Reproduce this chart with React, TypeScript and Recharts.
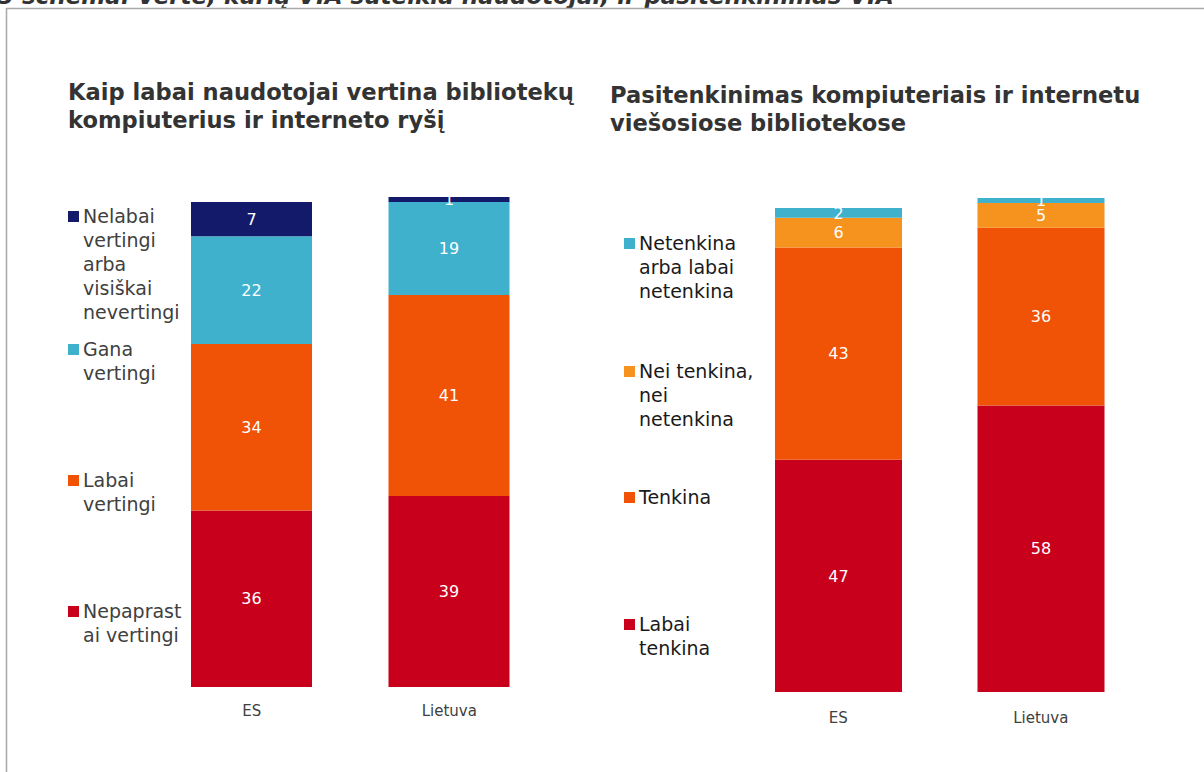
import { BarChart, Bar, XAxis, YAxis, LabelList } from "recharts"

// categories on both charts
const categories = ["ES", "Lietuva"]

// left chart: how users value library computers and internet (%)
const extremelyValuable = [36, 39]
const veryValuable = [34, 41]
const fairlyValuable = [22, 19]
const notValuable = [7, 1]

// right chart: satisfaction with computers and internet (%)
const verySatisfied = [47, 58]
const satisfied = [43, 36]
const neutral = [6, 5]
const dissatisfied = [2, 1]

const leftTitle = ["Kaip labai naudotojai vertina bibliotekų", "kompiuterius ir interneto ryšį"]
const rightTitle = ["Pasitenkinimas kompiuteriais ir internetu", "viešosiose bibliotekose"]
const topCaption = "5 schema. Vertė, kurią VIA suteikia naudotojai, ir pasitenkinimas VIA"

const leftLegend = [
    { lines: ["Nelabai", "vertingi", "arba", "visiškai", "nevertingi"], color: "#141a6a" },
    { lines: ["Gana", "vertingi"], color: "#40b1cd" },
    { lines: ["Labai", "vertingi"], color: "#f05206" },
    { lines: ["Nepaprast", "ai vertingi"], color: "#c8001c" },
]
const rightLegend = [
    { lines: ["Netenkina", "arba labai", "netenkina"], color: "#40b1cd" },
    { lines: ["Nei tenkina,", "nei", "netenkina"], color: "#f6921e" },
    { lines: ["Tenkina"], color: "#f05206" },
    { lines: ["Labai", "tenkina"], color: "#c8001c" },
]

const FONT = "'DejaVu Sans', Verdana, sans-serif"

const leftData = categories.map((name, i) => ({
    name,
    extreme: extremelyValuable[i],
    very: veryValuable[i],
    fairly: fairlyValuable[i],
    not: notValuable[i],
}))

const rightData = categories.map((name, i) => ({
    name,
    verySat: verySatisfied[i],
    sat: satisfied[i],
    neutral: neutral[i],
    dissat: dissatisfied[i],
}))

const labelProps = { position: "center" as const, fill: "#ffffff", fontSize: 16, fontFamily: FONT }

function LegendBlock({ items, tops, left, textColor }: {
    items: { lines: string[]; color: string }[]
    tops: number[]
    left: number
    textColor: string
}) {
    return (
        <>
            {items.map((item, i) => (
                <div key={i} style={{ position: "absolute", left, top: tops[i] }}>
                    <div style={{ position: "absolute", left: 0, top: 7, width: 11, height: 11, background: item.color }} />
                    <div style={{ position: "absolute", left: 15, top: 0, fontFamily: FONT, fontSize: 19, lineHeight: "24px", color: textColor, whiteSpace: "nowrap" }}>
                        {item.lines.map((l, j) => <div key={j}>{l}</div>)}
                    </div>
                </div>
            ))}
        </>
    )
}

function Title({ lines, left, top }: { lines: string[]; left: number; top: number }) {
    return (
        <div style={{ position: "absolute", left, top, fontFamily: FONT, fontWeight: "bold", fontSize: 22.6, lineHeight: "28px", color: "#333333", whiteSpace: "nowrap" }}>
            {lines.map((l, i) => <div key={i}>{l}</div>)}
        </div>
    )
}

export default function App() {
    const tick = { fontFamily: FONT, fontSize: 15, fill: "#404040" }
    return (
        <div style={{ position: "absolute", left: 0, top: 0, width: 1204, height: 772, overflow: "hidden", background: "#fff" }}>
            <svg width={1204} height={772} style={{ position: "absolute", left: 0, top: 0 }}>
                <text x={-2} y={4} fontFamily={FONT} fontWeight="bold" fontStyle="italic" fontSize={23} fill="#333">{topCaption}</text>
                <line x1={6} y1={8.5} x2={1204} y2={8.5} stroke="#a8a8a8" strokeWidth={1.5} />
                <line x1={6.5} y1={8} x2={6.5} y2={772} stroke="#a8a8a8" strokeWidth={1.5} />
            </svg>

            <Title lines={leftTitle} left={68} top={78} />
            <Title lines={rightTitle} left={610} top={81} />

            <LegendBlock items={leftLegend} tops={[204, 337, 468, 599]} left={68} textColor="#404040" />
            <LegendBlock items={rightLegend} tops={[231, 359, 485, 612]} left={624} textColor="#1a1a1a" />

            <div style={{ position: "absolute", left: 153, top: 187 }}>
                <BarChart width={395} height={540} data={leftData} margin={{ top: 10, right: 0, bottom: 0, left: 0 }} barSize={121}>
                    <YAxis hide domain={[0, 100]} />
                    <XAxis dataKey="name" axisLine={false} tickLine={false} height={40} tickMargin={12} tick={tick} />
                    <Bar dataKey="extreme" stackId="a" fill="#c8001c" isAnimationActive={false}>
                        <LabelList dataKey="extreme" {...labelProps} />
                    </Bar>
                    <Bar dataKey="very" stackId="a" fill="#f05206" isAnimationActive={false}>
                        <LabelList dataKey="very" {...labelProps} />
                    </Bar>
                    <Bar dataKey="fairly" stackId="a" fill="#40b1cd" isAnimationActive={false}>
                        <LabelList dataKey="fairly" {...labelProps} />
                    </Bar>
                    <Bar dataKey="not" stackId="a" fill="#141a6a" isAnimationActive={false}>
                        <LabelList dataKey="not" {...labelProps} />
                    </Bar>
                </BarChart>
            </div>

            <div style={{ position: "absolute", left: 737, top: 188 }}>
                <BarChart width={405} height={544} data={rightData} margin={{ top: 10, right: 0, bottom: 0, left: 0 }} barSize={127}>
                    <YAxis hide domain={[0, 100]} />
                    <XAxis dataKey="name" axisLine={false} tickLine={false} height={40} tickMargin={14} tick={tick} />
                    <Bar dataKey="verySat" stackId="b" fill="#c8001c" isAnimationActive={false}>
                        <LabelList dataKey="verySat" {...labelProps} />
                    </Bar>
                    <Bar dataKey="sat" stackId="b" fill="#f05206" isAnimationActive={false}>
                        <LabelList dataKey="sat" {...labelProps} />
                    </Bar>
                    <Bar dataKey="neutral" stackId="b" fill="#f6921e" isAnimationActive={false}>
                        <LabelList dataKey="neutral" {...labelProps} />
                    </Bar>
                    <Bar dataKey="dissat" stackId="b" fill="#40b1cd" isAnimationActive={false}>
                        <LabelList dataKey="dissat" {...labelProps} />
                    </Bar>
                </BarChart>
            </div>
        </div>
    )
}
